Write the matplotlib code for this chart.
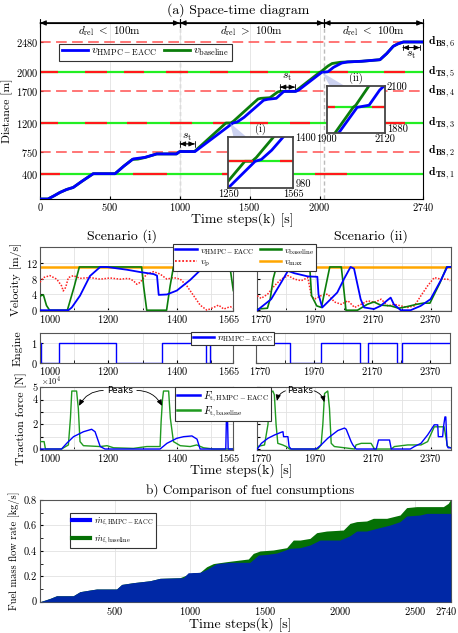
import matplotlib
matplotlib.use("Agg")
import matplotlib.pyplot as plt
from matplotlib.lines import Line2D
from matplotlib.patches import Polygon
from matplotlib.transforms import ScaledTranslation

plt.rcParams['font.family'] = 'serif'
plt.rcParams['font.serif'] = ['cmr10']
plt.rcParams['mathtext.fontset'] = 'cm'
plt.rcParams['axes.formatter.use_mathtext'] = True
plt.rcParams['axes.unicode_minus'] = False

# ---- (a) space-time data ----
traj_k_hmpc = [0, 57, 100, 143, 190, 238, 300, 381, 537, 600, 667, 751, 835, 976, 1000, 1109, 1250, 1380, 1410,
               1460, 1600, 1630, 1690, 1745, 1830, 1850, 2015, 2060, 2100, 2158, 2200, 2300, 2432, 2480, 2527,
               2560, 2600, 2740]
traj_d_hmpc = [0, 0, 50, 104, 150, 183, 280, 400, 400, 520, 633, 658, 712, 712, 750, 750, 984, 1200, 1215,
               1290, 1560, 1575, 1590, 1700, 1700, 1720, 2000, 2010, 2080, 2147, 2165, 2175, 2200, 2296, 2412,
               2450, 2480, 2480]
traj_k_base = [0, 57, 100, 143, 190, 238, 300, 381, 537, 600, 660, 700, 751, 835, 976, 1000, 1105, 1330, 1365,
               1385, 1560, 1580, 1645, 1700, 1717, 1825, 1835, 2000, 2010, 2060, 2090, 2150, 2300, 2432, 2480,
               2527, 2560, 2600, 2740]
traj_d_base = [0, 0, 50, 104, 150, 183, 280, 400, 400, 520, 625, 630, 655, 712, 712, 750, 750, 1200, 1200,
               1230, 1580, 1590, 1600, 1690, 1700, 1700, 1715, 2000, 2010, 2100, 2140, 2160, 2175, 2200, 2296,
               2412, 2450, 2480, 2480]

ts_levels = [400, 1200, 2000]
ts_names = [r'$\mathbf{d}_{\mathbf{TS},1}$', r'$\mathbf{d}_{\mathbf{TS},3}$', r'$\mathbf{d}_{\mathbf{TS},5}$']
ts_red = [
    [(0, 143), (667, 906), (1300, 1480), (1967, 2194)],
    [(0, 131), (322, 477), (620, 763), (930, 1085), (1240, 1370), (1502, 1633), (1788, 1931), (2150, 2290),
     (2468, 2611)],
    [(0, 131), (322, 477), (600, 745), (900, 1060), (1216, 1345), (1502, 1633), (1788, 1931), (2070, 2200),
     (2460, 2612)],
]
bs_levels = [750, 1700, 2480]
bs_names = [r'$\mathbf{d}_{\mathbf{BS},2}$', r'$\mathbf{d}_{\mathbf{BS},4}$', r'$\mathbf{d}_{\mathbf{BS},6}$']

zone_edges = [0, 1000, 2030, 2740]
zone_text = [r'$d_{\rm rel}$ $<$ 100m', r'$d_{\rm rel}$ $>$ 100m', r'$d_{\rm rel}$ $<$ 100m']
st_spans = [(1000, 1107, 870, 975), (1717, 1824, 1767, 1916), (2595, 2718, 2391, 2269)]

# ---- scenario data ----
vel_k_base_i = [1000, 1010, 1019, 1028, 1080, 1100, 1115, 1297, 1303, 1312, 1370, 1380, 1390, 1548, 1556, 1565]
vel_base_i = [3.6, 3.9, 1.2, 0, 0, 6, 11, 11, 6, 0, 0, 6, 11, 11, 10.5, 5]
vel_k_hmpc_i = [1000, 1083, 1093, 1117, 1146, 1176, 1195, 1254, 1293, 1332, 1342, 1347, 1371, 1400, 1439, 1470,
                1488, 1536, 1542, 1548, 1556, 1565]
vel_hmpc_i = [0, 0, 0.7, 3.7, 8.7, 11, 11, 10.3, 9.7, 9.2, 8.8, 3.9, 4.0, 5.0, 7.7, 10.3, 11, 11, 10.0, 10.2,
              11, 11]
vp_k_i = [1000, 1010, 1029, 1049, 1063, 1068, 1075, 1083, 1098, 1117, 1146, 1176, 1205, 1234, 1259, 1273, 1283,
          1293, 1312, 1332, 1351, 1371, 1390, 1410, 1429, 1449, 1468, 1488, 1507, 1522, 1537, 1556, 1565]
vp_i = [7.1, 8.3, 8.8, 7.9, 6.2, 4.9, 5.8, 8.3, 8.8, 8.1, 8.3, 7.9, 8.2, 7.9, 8.1, 7.5, 6.6, 7.1, 9.2, 9.8, 9.2,
        7.9, 8.3, 7.9, 6.2, 3.7, 1.3, 0, 0.7, 1.3, 0.3, 0.9, 0.5]

vel_k_base_ii = [1770, 1805, 1815, 1825, 1836, 1888, 1952, 1958, 1976, 1992, 2010, 2021, 2061, 2072, 2077, 2117,
                 2151, 2174, 2197, 2232, 2260, 2288, 2322, 2345, 2368, 2403, 2426, 2440]
vel_base_ii = [0.3, 0.5, 3, 8, 11, 11, 10.5, 3.7, 1.1, 0.7, 7.1, 11, 11, 3.7, 0, 0, 1.5, 2.1, 1.3, 1.1, 0.5, 0.9,
               1.5, 1.8, 1.8, 7, 11, 11]
vel_k_hmpc_ii = [1770, 1818, 1853, 1876, 1899, 1945, 1978, 1982, 1995, 2024, 2047, 2070, 2093, 2105, 2128, 2140,
                 2174, 2197, 2220, 2232, 2243, 2267, 2301, 2336, 2370, 2405, 2428, 2440]
vel_hmpc_ii = [0, 2.8, 7.1, 10, 9.4, 8.6, 8.5, 4, 0.7, 2.8, 4.5, 7.9, 11, 10.6, 2.8, 0.7, 0.3, 1.1, 2.5, 3.2, 1.5,
               0, 0, 1.1, 2.8, 7.5, 11, 11]
vp_k_ii = [1770, 1783, 1806, 1829, 1853, 1876, 1899, 1922, 1945, 1957, 1968, 1991, 2014, 2037, 2061, 2084, 2107,
           2130, 2153, 2176, 2199, 2222, 2245, 2268, 2291, 2314, 2337, 2360, 2383, 2406, 2429, 2438]
vp_ii = [3.7, 3.0, 4.1, 6.2, 7.9, 8.8, 7.9, 7.5, 8.3, 3.7, 2.8, 3.7, 4.1, 2.1, 1.5, 2.4, 0.7, 1.5, 2.4, 2.0, 2.8,
         1.1, 1.5, 1.1, 0.7, 1.1, 3.7, 6.2, 8.3, 7.9, 7.9, 7.5]
v_max = 11.1

eng_k_i = [1000, 1002, 1057, 1222, 1356, 1486, 1496, 1565]
eng_i = [1, 0, 1, 0, 1, 0, 1, 1]
eng_k_ii = [1770, 1887, 1996, 2130, 2158, 2256, 2275, 2440]
eng_ii = [1, 0, 1, 0, 1, 0, 1, 1]

# traction force in 1e4 N
force_k_base_i = [1000, 1012, 1016, 1063, 1075, 1083, 1089, 1093, 1107, 1112, 1117, 1127, 1176, 1196, 1215, 1273,
                  1312, 1351, 1354, 1358, 1361, 1376, 1381, 1390, 1410, 1439, 1458, 1478, 1507, 1565]
force_base_i = [0.6, 0.6, 0, 0, 0.2, 0.33, 2.5, 4.7, 4.7, 3.3, 0.6, 0.27, 0.2, 0.27, 0.1, 0.05, 0.2, 0.2, 2.2,
                4.0, 4.7, 4.7, 2.5, 0.6, 0.27, 0.2, 0.33, 0.1, 0, 0]
force_k_hmpc_i = [1000, 1063, 1078, 1098, 1127, 1151, 1161, 1171, 1176, 1190, 1351, 1371, 1400, 1420, 1444, 1459,
                  1468, 1543, 1545, 1548, 1550, 1565]
force_hmpc_i = [0, 0, 0.46, 1.0, 1.4, 1.6, 1.4, 0.6, 0.2, 0, 0, 0.46, 0.87, 1.0, 1.06, 0.8, 0, 0, 2.6, 2.6, 0, 0]
force_k_base_ii = [1770, 1795, 1807, 1813, 1824, 1829, 1835, 1841, 1858, 1870, 1882, 1980, 1991, 1997, 2003, 2014,
                   2020, 2026, 2037, 2107, 2112, 2130, 2164, 2176, 2234, 2245, 2291, 2337, 2360, 2383, 2417, 2429,
                   2440]
force_base_ii = [0.2, 0.33, 2.0, 4.5, 4.7, 4.4, 2.0, 0.46, 0.33, 0.2, 0, 0, 0.33, 2.0, 4.5, 4.7, 3.3, 0.46, 0.2,
                 0, 0.33, 0.46, 0.46, 0, 0, 0.2, 0.33, 0.33, 0.6, 1.8, 1.8, 0.2, 0.1]
force_k_hmpc_ii = [1770, 1784, 1807, 1830, 1853, 1859, 1861, 1876, 1880, 1887, 1974, 1991, 2014, 2049, 2072, 2078,
                   2095, 2101, 2112, 2182, 2190, 2228, 2234, 2300, 2314, 2337, 2360, 2383, 2395, 2397, 2412, 2415,
                   2420, 2423, 2427, 2431, 2440]
force_hmpc_ii = [0, 0.46, 0.87, 1.14, 1.36, 1.4, 1.0, 1.0, 0.2, 0, 0, 0.33, 0.87, 1.5, 1.7, 1.6, 0.6, 0.33, 0,
                 0, 0.73, 0.73, 0, 0, 0.2, 0.46, 1.14, 1.96, 1.96, 1.0, 1.0, 1.8, 2.6, 2.6, 0.3, 0.1, 0.1]

# ---- (b) fuel data ----
fuel_k_hmpc = [0, 67, 111, 222, 267, 334, 378, 511, 545, 623, 734, 801, 956, 989, 1067, 1112, 1179, 1268, 1401,
               1457, 1512, 1579, 1668, 1735, 1801, 1868, 2001, 2068, 2113, 2179, 2246, 2335, 2402, 2446, 2535,
               2580, 2740]
fuel_hmpc = [0, 0.026, 0.047, 0.047, 0.079, 0.092, 0.10, 0.10, 0.136, 0.15, 0.165, 0.184, 0.189, 0.228, 0.231,
             0.254, 0.30, 0.31, 0.31, 0.367, 0.372, 0.383, 0.42, 0.425, 0.446, 0.485, 0.485, 0.519, 0.556, 0.556,
             0.577, 0.603, 0.63, 0.674, 0.682, 0.695, 0.695]
fuel_k_base = [0, 67, 111, 222, 267, 334, 378, 511, 545, 623, 734, 801, 934, 978, 1023, 1067, 1112, 1157, 1246,
               1334, 1390, 1423, 1468, 1557, 1646, 1690, 1735, 1801, 1846, 1912, 2024, 2068, 2113, 2179, 2224,
               2313, 2402, 2446, 2513, 2691, 2724, 2740]
fuel_base = [0, 0.026, 0.047, 0.047, 0.079, 0.092, 0.10, 0.10, 0.136, 0.15, 0.165, 0.184, 0.189, 0.21, 0.228,
             0.231, 0.275, 0.30, 0.315, 0.328, 0.336, 0.38, 0.399, 0.407, 0.425, 0.485, 0.485, 0.498, 0.543,
             0.556, 0.564, 0.616, 0.63, 0.635, 0.656, 0.656, 0.682, 0.74, 0.748, 0.748, 0.774, 0.805]

BLUE = '#0000ff'
GREEN = '#0b7d0b'
SIG_GREEN = '#22ee22'
SIG_RED = '#ff1a1a'
ORANGE = '#ffa600'
GRID = '#e2e2e2'
TICK = 7.5
LAB = 8.5


def draw_signals(ax, k0, k1):
    for lev, reds in zip(ts_levels, ts_red):
        ax.plot([k0, k1], [lev, lev], color=SIG_GREEN, lw=1.6, solid_capstyle='butt', zorder=2)
        for a, b in reds:
            ax.plot([a, b], [lev, lev], color=SIG_RED, lw=1.6, solid_capstyle='butt', zorder=2.1)


def span_arrow(ax, x0, x1, y, lw=0.8, bar=0.25):
    ax.annotate('', xy=(x1, y), xytext=(x0, y), annotation_clip=False,
                arrowprops=dict(arrowstyle='<|-|>,head_length=0.35,head_width=0.15', color='k', lw=lw,
                                shrinkA=0, shrinkB=0))
    ax.annotate('', xy=(x1, y), xytext=(x0, y), annotation_clip=False,
                arrowprops=dict(arrowstyle='|-|,widthA=%g,widthB=%g' % (bar, bar), color='k', lw=lw,
                                shrinkA=0, shrinkB=0))


def nudge(label, dx_px, ha):
    label.set_ha(ha)
    label.set_transform(label.get_transform() + ScaledTranslation(dx_px / 100, 0, fig.dpi_scale_trans))


fig = plt.figure(figsize=(4.58, 6.33), dpi=100)

# ================= (a) space-time =================
ax = fig.add_axes([0.0873, 0.6856, 0.8363, 0.2781])
ax.set_xlim(0, 2740)
ax.set_ylim(0, 2780)
ax.grid(axis='x', color=GRID, lw=0.6)
for xv in (1000, 2030):
    ax.axvline(xv, color='#bbbbbb', lw=1.0, ls=(0, (3, 2)), zorder=1)
draw_signals(ax, 0, 2740)
for lev in bs_levels:
    ax.axhline(lev, color='#ff5050', lw=1.1, ls=(0, (7, 3.5)), zorder=2)
ax.plot(traj_k_base, traj_d_base, color=GREEN, lw=2.0, zorder=3)
ax.plot(traj_k_hmpc, traj_d_hmpc, color=BLUE, lw=2.0, zorder=4)
ax.set_xticks([0, 500, 1000, 1500, 2000, 2740])
ax.set_yticks([400, 750, 1200, 1700, 2000, 2480])
ax.tick_params(labelsize=TICK, direction='in', length=2, pad=1.5)
ax.set_ylabel('Distance [m]', fontsize=LAB, labelpad=2)
for lev, name in zip(ts_levels + bs_levels, ts_names + bs_names):
    ax.text(1.012, (lev - 0) / 2780, name, transform=ax.transAxes, fontsize=8.5, va='center', ha='left')
for i in range(3):
    span_arrow(ax, zone_edges[i], zone_edges[i + 1], 2780, lw=0.8, bar=0.3)
    ax.text((zone_edges[i] + zone_edges[i + 1]) / 2, 2660, zone_text[i], fontsize=8, ha='center', va='center')
for x0, x1, ya, yt in st_spans:
    span_arrow(ax, x0, x1, ya, lw=0.6, bar=0.2)
    ax.text((x0 + x1) / 2, yt, r'$s_{\rm t}$', fontsize=8.5, ha='center', va='center')
leg = ax.legend([Line2D([], [], color=BLUE, lw=2), Line2D([], [], color=GREEN, lw=2)],
                [r'$v_{\mathrm{HMPC-EACC}}$', r'$v_{\mathrm{baseline}}$'], ncol=2, loc='lower left',
                bbox_to_anchor=(0.035, 0.752), fontsize=8.5, fancybox=False, framealpha=1,
                edgecolor='#333333', handlelength=2.2, columnspacing=0.6, handletextpad=0.3, borderpad=0.2)
leg.get_frame().set_linewidth(0.8)

# wedges connecting zoom points to insets
ax.add_patch(Polygon([(1360, 1200), (1385, 975), (1480, 975)], closed=True, color='#aab4e6', alpha=0.6,
                     lw=0, zorder=5))
ax.add_patch(Polygon([(2017, 2000), (2075, 1783), (2182, 1783)], closed=True, color='#aab4e6', alpha=0.6,
                     lw=0, zorder=5))

insets = [([0.4985, 0.7025, 0.142, 0.0815], (1250, 1565), (980, 1400), '(i)'),
          ([0.7133, 0.7894, 0.1273, 0.0752], (1900, 2120), (1880, 2100), '(ii)')]
for rect, xl, yl, tag in insets:
    ai = fig.add_axes(rect)
    draw_signals(ai, xl[0], xl[1])
    ai.plot(traj_k_base, traj_d_base, color=GREEN, lw=2.0)
    ai.plot(traj_k_hmpc, traj_d_hmpc, color=BLUE, lw=2.0)
    ai.set_xlim(*xl)
    ai.set_ylim(*yl)
    ai.set_xticks([])
    ai.set_yticks([])
    for s in ai.spines.values():
        s.set_color('#444444')
        s.set_linewidth(1.3)
    ai.text(0, -0.03, str(xl[0]), transform=ai.transAxes, fontsize=7.5, ha='center', va='top')
    ai.text(1, -0.03, str(xl[1]), transform=ai.transAxes, fontsize=7.5, ha='center', va='top')
    ai.text(1.03, 0.97, str(yl[1]), transform=ai.transAxes, fontsize=7.5, ha='left', va='center')
    ai.text(1.03, 0.08, str(yl[0]), transform=ai.transAxes, fontsize=7.5, ha='left', va='center')
    ai.text(0.5, 1.03, tag, transform=ai.transAxes, fontsize=7.5, ha='center', va='bottom')

fig.text(0.52, 0.984, '(a) Space-time diagram', fontsize=10, ha='center', va='center')
fig.text(0.53, 0.653, 'Time steps(k) [s]', fontsize=10, ha='center', va='center')

# ================= scenarios =================
left_x = (0.0873, 0.4221)
right_x = (0.5618, 0.4223)
ticks_i = ([1000, 1200, 1400, 1565], [1100, 1300, 1500])
ticks_ii = ([1770, 1970, 2170, 2370], [1870, 2070, 2270])


def setup(a, xl, ticks, is_left):
    a.set_xlim(*xl)
    a.set_xticks(ticks[0])
    a.set_xticks(ticks[1], minor=True)
    a.grid(True, which='both', color=GRID, lw=0.6)
    a.tick_params(which='both', labelsize=TICK, direction='in', length=2, pad=1.5)
    if not is_left:
        a.tick_params(axis='y', labelleft=False)
    for s in a.spines.values():
        s.set_color('#555555')
        s.set_linewidth(0.8)
    labs = a.get_xticklabels()
    if is_left:
        nudge(labs[0], -1, 'left')
        nudge(labs[-1], 7, 'right')
    else:
        nudge(labs[0], -7, 'left')


v_axes = []
for (lx, w), xl, ticks, kb, vb, kh, vh, kp, vp in [
        (left_x, (1000, 1565), ticks_i, vel_k_base_i, vel_base_i, vel_k_hmpc_i, vel_hmpc_i, vp_k_i, vp_i),
        (right_x, (1770, 2440), ticks_ii, vel_k_base_ii, vel_base_ii, vel_k_hmpc_ii, vel_hmpc_ii, vp_k_ii,
         vp_ii)]:
    a = fig.add_axes([lx, 0.5087, w, 0.1006])
    a.axhline(v_max, color=ORANGE, lw=1.8, zorder=2)
    a.plot(kp, vp, color='#ff2020', lw=1.1, ls=(0, (1, 1)), zorder=3)
    a.plot(kb, vb, color=GREEN, lw=1.2, zorder=4)
    a.plot(kh, vh, color=BLUE, lw=1.3, zorder=5)
    a.set_ylim(-0.2, 16)
    a.set_yticks([0, 4, 8, 12])
    setup(a, xl, ticks, lx < 0.3)
    v_axes.append(a)
v_axes[0].set_ylabel('Velocity [m/s]', fontsize=LAB, labelpad=3)
fig.text(0.2657, 0.627, 'Scenario (i)', fontsize=10, ha='center', va='center')
fig.text(0.81, 0.627, 'Scenario (ii)', fontsize=10, ha='center', va='center')
leg = fig.legend([Line2D([], [], color=BLUE, lw=1.8), Line2D([], [], color='#ff2020', lw=1.3, ls=(0, (1, 1))),
                  Line2D([], [], color=GREEN, lw=1.8), Line2D([], [], color=ORANGE, lw=1.8)],
                 [r'$v_{\mathrm{HMPC-EACC}}$', r'$v_{\mathrm{p}}$', r'$v_{\mathrm{baseline}}$', r'$v_{\max}$'],
                 ncol=2, loc='upper center', bbox_to_anchor=(0.5345, 0.622), fontsize=7, fancybox=False,
                 framealpha=1, edgecolor='#333333', handlelength=2.2, columnspacing=0.6, handletextpad=0.3,
                 borderpad=0.2, labelspacing=0.1)
leg.get_frame().set_linewidth(0.8)

e_axes = []
for (lx, w), xl, ticks, ke, ne in [((0.0873, 0.4221), (1000, 1565), ticks_i, eng_k_i, eng_i),
                                   ((0.559, 0.4236), (1770, 2440), ticks_ii, eng_k_ii, eng_ii)]:
    a = fig.add_axes([lx, 0.4261, w, 0.0483])
    a.plot(ke, ne, color=BLUE, lw=1.0, drawstyle='steps-post')
    a.set_ylim(-0.03, 1.55)
    a.set_yticks([0, 1])
    setup(a, xl, ticks, lx < 0.3)
    e_axes.append(a)
e_axes[0].set_ylabel('Engine', fontsize=LAB, labelpad=6)
leg = fig.legend([Line2D([], [], color=BLUE, lw=1.8)], [r'$n_{\mathrm{HMPC-EACC}}$'], loc='upper center',
                 bbox_to_anchor=(0.5076, 0.483), fontsize=7, fancybox=False, framealpha=1, edgecolor='#333333',
                 handlelength=2.2, handletextpad=0.3, borderpad=0.15)
leg.get_frame().set_linewidth(0.8)

f_axes = []
for (lx, w), xl, ticks, kb, fb, kh, fh in [
        (left_x, (1000, 1565), ticks_i, force_k_base_i, force_base_i, force_k_hmpc_i, force_hmpc_i),
        (right_x, (1770, 2440), ticks_ii, force_k_base_ii, force_base_ii, force_k_hmpc_ii, force_hmpc_ii)]:
    a = fig.add_axes([lx, 0.2891, w, 0.099])
    a.plot(kb, [f * 1e4 for f in fb], color='#1f9a1f', lw=1.0, zorder=3)
    a.plot(kh, [f * 1e4 for f in fh], color=BLUE, lw=1.0, zorder=4)
    a.set_ylim(-0.08e4, 5e4)
    a.set_yticks([0, 1e4, 2e4, 3e4, 4e4, 5e4])
    a.set_yticklabels(['0', '', '2', '', '4', '5'])
    setup(a, xl, ticks, lx < 0.3)
    f_axes.append(a)
f_axes[0].set_ylabel('Traction force [N]', fontsize=LAB, labelpad=4)
f_axes[0].text(0.005, 1.0, r'$\times10^4$', transform=f_axes[0].transAxes, fontsize=6, ha='left',
               va='bottom')
arw = dict(arrowstyle='-|>,head_length=0.35,head_width=0.15', color='k', lw=0.6, shrinkA=1, shrinkB=0)
for a, txt, left_pk, right_pk in [(f_axes[0], (1234, 4.75e4), (1114, 3.5e4), (1357, 3.5e4)),
                                  (f_axes[1], (1917, 4.75e4), (1838, 3.9e4), (2002, 3.8e4))]:
    a.text(txt[0], txt[1], 'Peaks', fontsize=6.5, family='DejaVu Sans', ha='center', va='center', zorder=6)
    a.annotate('', xy=left_pk, xytext=(txt[0] - 45, txt[1]),
               arrowprops=dict(arw, connectionstyle='arc3,rad=0.3'))
    a.annotate('', xy=right_pk, xytext=(txt[0] + 45, txt[1]),
               arrowprops=dict(arw, connectionstyle='arc3,rad=-0.3'))
leg = fig.legend([Line2D([], [], color=BLUE, lw=1.8), Line2D([], [], color='#1f9a1f', lw=1.8)],
                 [r'$F_{\mathrm{t,HMPC-EACC}}$', r'$F_{\mathrm{t,baseline}}$'], loc='upper center',
                 bbox_to_anchor=(0.486, 0.3965), fontsize=7.5, fancybox=False, framealpha=1,
                 edgecolor='#333333', handlelength=2.2, handletextpad=0.3, borderpad=0.2, labelspacing=0.1)
leg.get_frame().set_linewidth(0.8)
fig.text(0.526, 0.2555, 'Time steps(k) [s]', fontsize=10, ha='center', va='center')

# ================= (b) fuel =================
ab = fig.add_axes([0.0873, 0.0494, 0.8967, 0.1607])
ab.fill_between(fuel_k_base, 0, fuel_base, color='#057005', lw=0, zorder=2)
ab.fill_between(fuel_k_hmpc, 0, fuel_hmpc, color='#0028a6', lw=0, zorder=3)
ab.set_xlim(0, 2740)
ab.set_ylim(0, 0.8)
ab.set_xticks([500, 1000, 1500, 2000, 2500, 2740])
ab.set_yticks([0, 0.2, 0.4, 0.6, 0.8])
ab.set_yticklabels(['0', '0.2', '0.4', '0.6', '0.8'])
ab.set_yticks([0.1, 0.3, 0.5, 0.7], minor=True)
ab.grid(True, color=GRID, lw=0.6, zorder=0)
ab.set_axisbelow(True)
ab.tick_params(which='both', labelsize=TICK, direction='in', length=2, pad=2)
for s in ab.spines.values():
    s.set_color('#555555')
    s.set_linewidth(0.8)
nudge(ab.get_xticklabels()[-1], 7, 'right')
ab.set_ylabel('Fuel mass flow rate [kg/s]', fontsize=7.5, labelpad=3)
leg = ab.legend([Line2D([], [], color=BLUE, lw=3), Line2D([], [], color='#057005', lw=3)],
                [r'$\dot{m}_{\mathrm{f,HMPC-EACC}}$', r'$\dot{m}_{\mathrm{f,baseline}}$'], loc='upper left',
                bbox_to_anchor=(0.061, 0.921), fontsize=6.5, fancybox=False, framealpha=1,
                edgecolor='#333333', handlelength=2.0, handletextpad=0.4, borderpad=0.3, labelspacing=0.5)
leg.get_frame().set_linewidth(0.8)
fig.text(0.546, 0.226, 'b) Comparison of fuel consumptions', fontsize=9.5, ha='center', va='center')
fig.text(0.524, 0.0135, 'Time steps(k) [s]', fontsize=10, ha='center', va='center')

fig.savefig('out.png', dpi=100)
